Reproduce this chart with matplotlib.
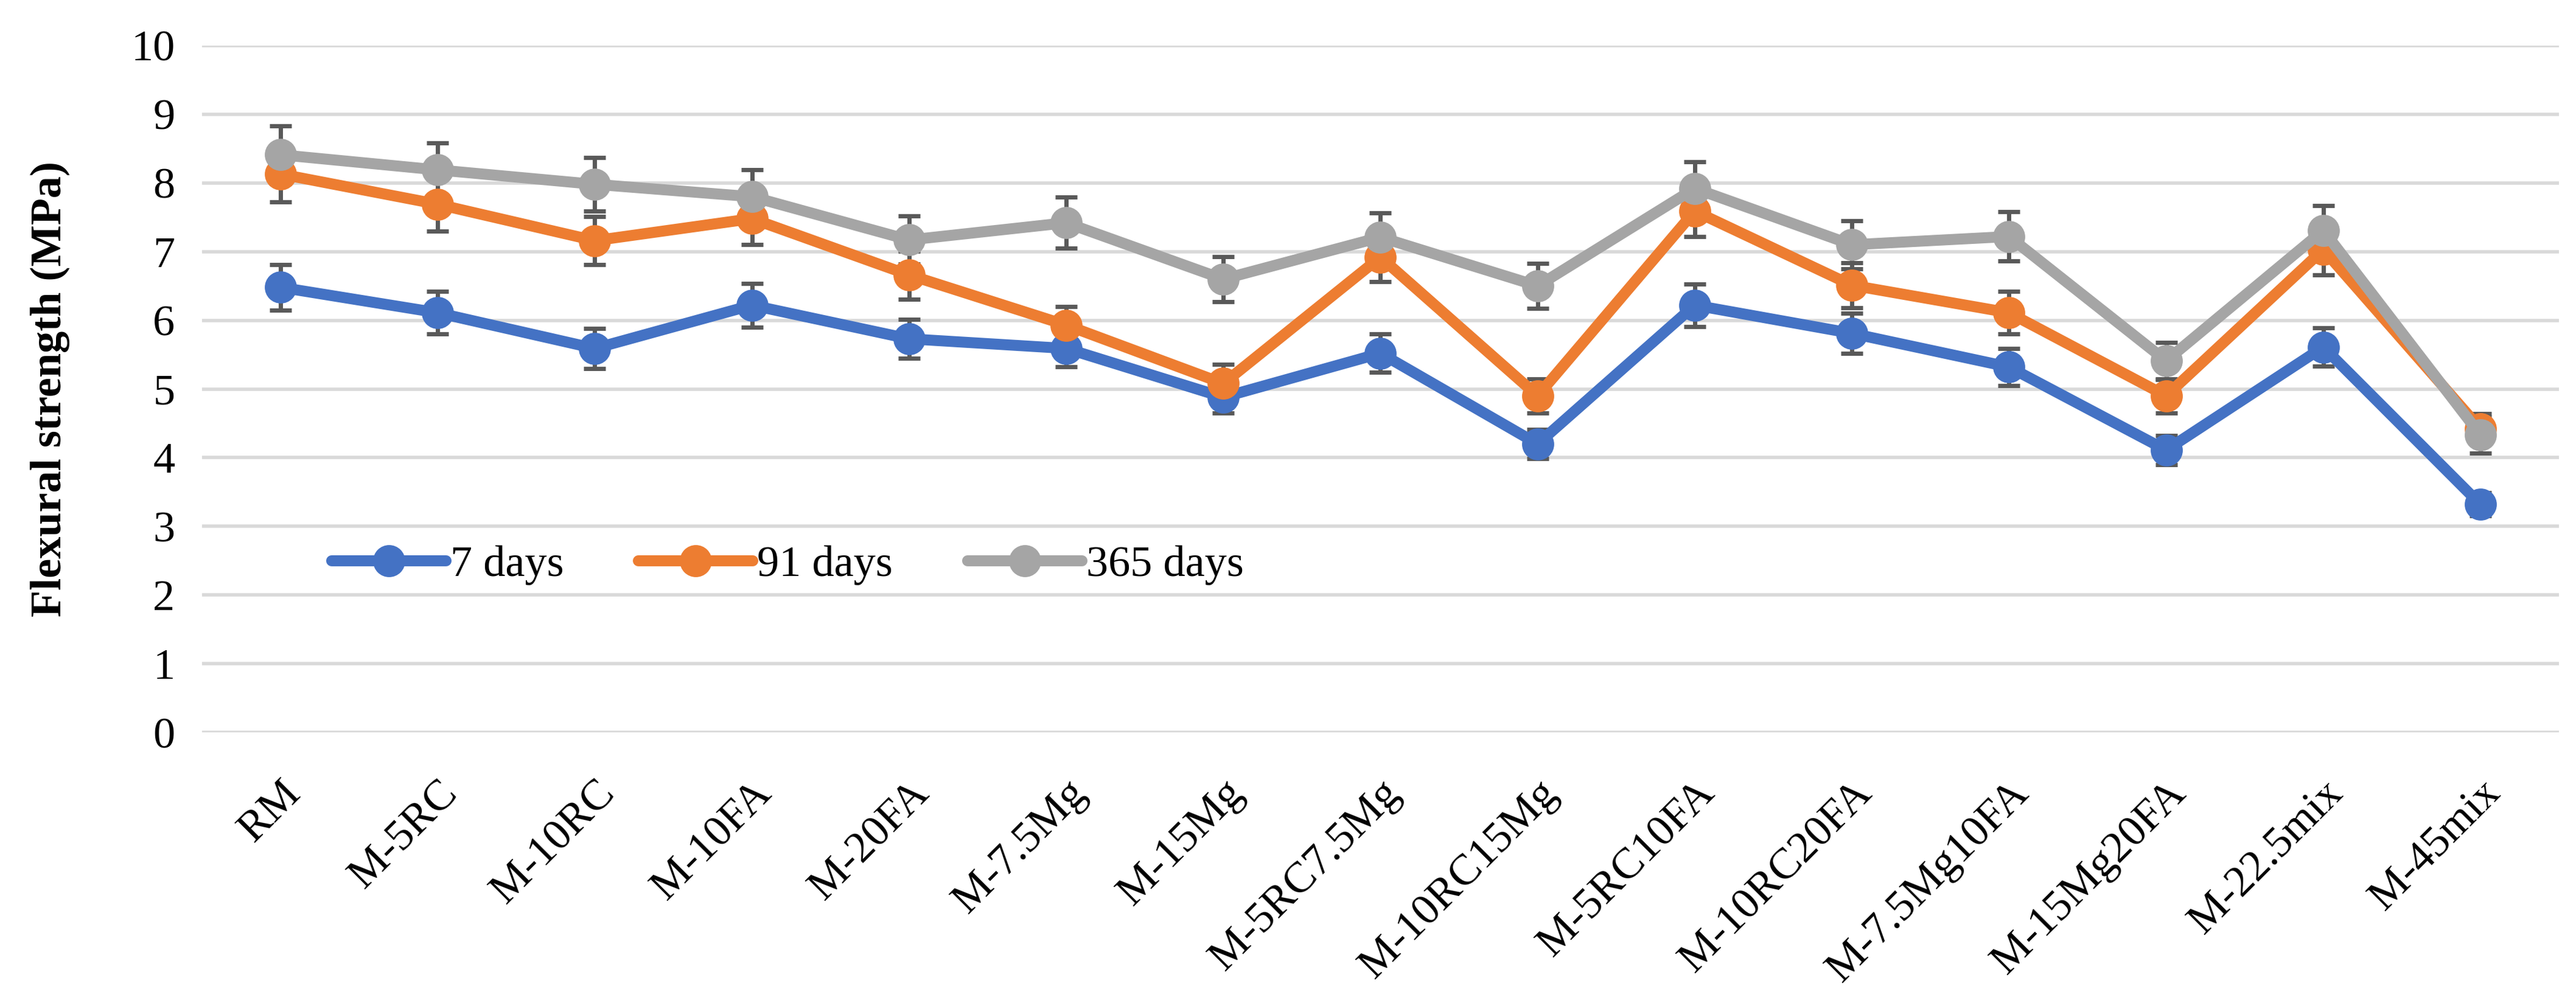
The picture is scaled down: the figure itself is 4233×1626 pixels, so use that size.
import numpy as np
import matplotlib.pyplot as plt

# mixes on the category axis
mixes = ['RM', 'M-5RC', 'M-10RC', 'M-10FA', 'M-20FA', 'M-7.5Mg', 'M-15Mg',
         'M-5RC7.5Mg', 'M-10RC15Mg', 'M-5RC10FA', 'M-10RC20FA', 'M-7.5Mg10FA',
         'M-15Mg20FA', 'M-22.5mix', 'M-45mix']

# flexural strength (MPa)
d7 = [6.48, 6.11, 5.59, 6.22, 5.73, 5.59, 4.88, 5.52, 4.20, 6.22, 5.81, 5.32, 4.11, 5.61, 3.32]
d91 = [8.13, 7.69, 7.16, 7.48, 6.66, 5.93, 5.08, 6.92, 4.90, 7.59, 6.51, 6.11, 4.90, 7.03, 4.42]
d365 = [8.41, 8.19, 7.98, 7.80, 7.17, 7.42, 6.60, 7.21, 6.50, 7.92, 7.10, 7.22, 5.41, 7.31, 4.33]

# error bars
e7 = [0.33, 0.31, 0.29, 0.32, 0.28, 0.27, 0.23, 0.28, 0.21, 0.31, 0.29, 0.27, 0.21, 0.28, 0.17]
e91 = [0.41, 0.39, 0.35, 0.38, 0.35, 0.27, 0.28, 0.36, 0.25, 0.37, 0.33, 0.31, 0.25, 0.37, 0.22]
e365 = [0.42, 0.39, 0.39, 0.39, 0.35, 0.37, 0.33, 0.35, 0.33, 0.39, 0.35, 0.36, 0.27, 0.36, 0.26]

plt.rcParams['font.family'] = ['Liberation Serif', 'DejaVu Serif']

fig = plt.figure(figsize=(21.165, 8.13), dpi=200)
ax = fig.add_axes([0.0784, 0.2595, 0.915, 0.6944])

x = np.arange(len(mixes))
series = [(d7, e7, '#4472C4', '7 days'),
          (d91, e91, '#ED7D31', '91 days'),
          (d365, e365, '#A5A5A5', '365 days')]
for vals, errs, col, lab in series:
    ax.errorbar(x, vals, yerr=errs, color=col, lw=6.5, marker='o', ms=18,
                ecolor='#595959', elinewidth=2.5, capsize=6.5, capthick=2.5,
                label=lab, solid_capstyle='round')

ax.set_xlim(-0.5, len(mixes) - 0.5)
ax.set_ylim(0, 10)
ax.set_yticks(range(0, 11))
ax.set_xticks(x)
ax.set_xticklabels(mixes, rotation=45, ha='right', rotation_mode='anchor')
ax.tick_params(axis='both', length=0, labelsize=26, pad=16)
ax.tick_params(axis='x', pad=24)
ax.grid(axis='y', color='#D9D9D9', lw=2)
ax.set_axisbelow(True)
for s in ax.spines.values():
    s.set_visible(False)

ax.set_ylabel('Flexural strength (MPa)', fontsize=26, fontweight='bold', labelpad=36)

handles, labels = ax.get_legend_handles_labels()
handles = [h[0] for h in handles]
ax.legend(handles, labels, loc='center left', bbox_to_anchor=(0.055, 0.243),
          ncol=3, frameon=False, fontsize=26, handlelength=2.6,
          handletextpad=0.1, columnspacing=1.7, borderpad=0, borderaxespad=0)

fig.savefig('out.png', dpi=200)
